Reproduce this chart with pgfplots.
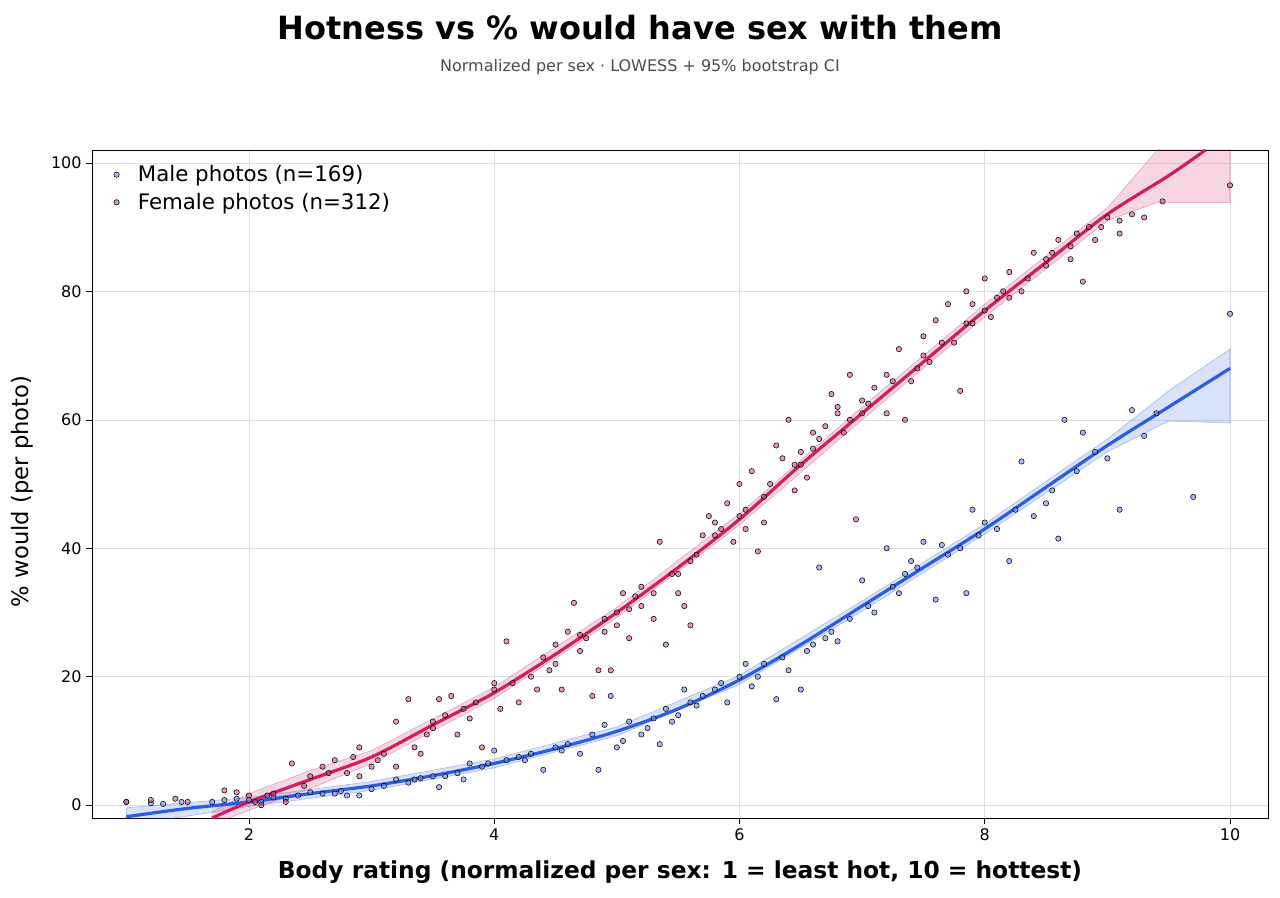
\documentclass[border=0pt]{standalone}
\usepackage{fontspec}
\setmainfont{DejaVu Sans}
\usepackage{pgfplots}
\pgfplotsset{compat=1.18}
\definecolor{mpt}{HTML}{6D8FF0}
\definecolor{mln}{HTML}{2B5CE6}
\definecolor{fpt}{HTML}{D0457A}
\definecolor{fln}{HTML}{D01E5E}
\begin{document}
\begin{tikzpicture}
\useasboundingbox (-69pt,-59.25pt) rectangle (891pt,613.5pt);
\begin{axis}[
 scale only axis, width=882pt, height=501pt,
 xmin=0.72, xmax=10.31, ymin=-2, ymax=102,
 xtick={2,4,6,8,10}, ytick={0,20,40,60,80,100},
 xtick pos=left, ytick pos=left,
 tick align=outside, tick style={black, thin},
 grid=major, grid style={gray!25, thin},
 ticklabel style={font=\fontsize{12}{14}\selectfont},
 /pgf/number format/assume math mode=true,
 legend style={draw=none, fill=none, at={(0.015,0.985)}, anchor=north west, font=\fontsize{16}{19}\selectfont, row sep=3pt, nodes={inner xsep=14pt}},
 legend cell align=left,
]
\addplot[only marks, mark=*, mark size=2pt, mark options={draw=none, fill=mpt, fill opacity=0.6}] coordinates {
(1.0,0.5)(1.2,0.3)(1.3,0.2)(1.45,0.5)(1.7,0.5)(1.8,0.8)(1.9,1)(2.0,0.8)(2.1,0.5)(2.2,1.2)(2.3,1)(2.4,1.5)(2.5,2)(2.6,1.8)(2.7,1.8)(2.8,1.5)(2.9,1.5)(3.0,2.5)(3.1,3)(3.2,4)(3.3,3.5)(3.4,4.2)(3.5,4.5)(3.55,2.8)(3.6,4.5)(3.7,5)(3.75,4)(3.8,6.5)(3.9,6)(4.0,8.5)(4.1,7)(4.2,7.5)(4.3,8)(4.4,5.5)(4.5,9)(4.6,9.5)(4.7,8)(4.8,11)(4.85,5.5)(4.9,12.5)(4.95,17)(5.0,9)(5.05,10)(5.1,13)(5.2,11)(5.3,13.5)(5.35,9.5)(5.4,15)(5.5,14)(5.55,18)(5.6,16)(5.7,17)(5.8,18)(5.9,16)(6.0,20)(6.05,22)(6.1,18.5)(6.2,22)(6.3,16.5)(6.4,21)(6.5,18)(6.6,25)(6.65,37)(6.7,26)(6.8,25.5)(6.9,29)(7.0,35)(7.1,30)(7.2,40)(7.3,33)(7.35,36)(7.4,38)(7.5,41)(7.6,32)(7.7,39)(7.8,40)(7.85,33)(7.9,46)(8.0,44)(8.1,43)(8.2,38)(8.3,53.5)(8.4,45)(8.5,47)(8.6,41.5)(8.65,60)(8.8,58)(8.9,55)(9.0,54)(9.1,46)(9.2,61.5)(9.3,57.5)(9.4,61)(9.7,48)(10.0,76.5)
(5.25,12)(5.45,13)(5.65,15.5)(5.85,19)(6.15,20)(6.35,23)(6.55,24)(6.75,27)(7.05,31)(7.25,34)(7.45,37)(7.65,40.5)(7.95,42)(8.25,46)(8.55,49)(8.75,52)(4.55,8.5)(4.25,7)(3.95,6.5)(3.35,4)(2.75,2.2)(2.15,1.5)
};
\addlegendentry{Male photos (n=169)}
\addplot[only marks, mark=*, mark size=2pt, mark options={draw=none, fill=fpt, fill opacity=0.55}] coordinates {
(1.0,0.5)(1.2,0.8)(1.4,1)(1.5,0.5)(1.8,2.3)(1.9,2)(2.0,1.5)(2.05,0.5)(2.1,0)(2.2,1.8)(2.3,0.5)(2.35,6.5)(2.5,4.5)(2.6,6)(2.7,7)(2.8,5)(2.85,7.5)(2.9,9)(2.9,4.5)(3.0,6)(3.1,8)(3.2,6)(3.2,13)(3.3,16.5)(3.35,9)(3.4,8)(3.5,12)(3.55,16.5)(3.6,14)(3.65,17)(3.7,11)(3.75,15)(3.8,13.5)(3.9,9)(4.0,19)(4.05,15)(4.1,25.5)(4.2,16)(4.3,20)(4.35,18)(4.4,23)(4.5,22)(4.55,18)(4.6,27)(4.65,31.5)(4.7,24)(4.75,26)(4.8,17)(4.85,21)(4.9,29)(4.95,21)(5.0,28)(5.05,33)(5.1,26)(5.15,32.5)(5.2,34)(5.3,29)(5.35,41)(5.4,25)(5.45,36)(5.5,33)(5.55,31)(5.6,28)(5.65,39)(5.7,42)(5.75,45)(5.8,44)(5.9,47)(5.95,41)(6.0,50)(6.05,43)(6.1,52)(6.15,39.5)(6.2,48)(6.3,56)(6.35,54)(6.4,60)(6.45,49)(6.5,55)(6.55,51)(6.6,58)(6.7,59)(6.75,64)(6.8,61)(6.85,58)(6.9,67)(6.95,44.5)(7.0,63)(7.1,65)(7.2,61)(7.3,71)(7.35,60)(7.4,66)(7.5,73)(7.55,69)(7.6,75.5)(7.7,78)(7.75,72)(7.8,64.5)(7.85,80)(7.9,75)(8.0,82)(8.05,76)(8.1,79)(8.2,83)(8.3,80)(8.4,86)(8.5,85)(8.6,88)(8.7,87)(8.8,81.5)(8.85,90)(8.9,88)(9.0,91.5)(9.1,89)(9.2,92)(9.3,91.5)(9.45,94)(10.0,96.5)
(5.0,30)(5.2,31)(5.5,36)(6.0,45)(6.5,53)(7.0,61)(7.5,70)(8.0,77)(8.5,84)(6.2,44)(5.8,42)(4.5,25)(4.0,18)(3.5,13)(7.2,67)(6.6,55.5)(6.8,62)(7.9,78)(8.2,79)(8.7,85)(9.1,91)
(2.45,3)(2.65,5)(3.05,7)(3.45,11)(3.85,16)(4.15,19)(4.45,21)(4.7,26.5)(4.9,27)(5.1,30.5)(5.3,33)(5.6,38)(5.85,43)(6.05,46)(6.25,50)(6.45,53)(6.65,57)(6.9,60)(7.05,62.5)(7.25,66)(7.45,68)(7.65,72)(7.85,75)(8.15,80)(8.35,82)(8.55,86)(8.75,89)(8.95,90)
};
\addlegendentry{Female photos (n=312)}
\addplot[forget plot, fill=mln, fill opacity=0.18, draw=mln, draw opacity=0.4, thin] coordinates {
(1,-3.2)(2,-0.2)(3,2.3)(4,5.8)(5,10.8)(6,18.8)(7,30.2)(8,42.2)(9,55)(9.5,59.8)(10,59.5)
(10,71)(9.5,64.5)(9,57)(8,43.8)(7,31.8)(6,20.2)(5,12.2)(4,7.2)(3,3.7)(2,1.2)(1,-0.4)} -- cycle;
\addplot[forget plot, fill=fln, fill opacity=0.18, draw=fln, draw opacity=0.4, thin] coordinates {
(1.7,-3)(2,-0.8)(2.5,2.6)(3,6.5)(4,16.6)(5,29.2)(6,43.6)(7,60)(8,76)(9,91)(9.4,93.8)(10,93.8)
(10,104)(9.5,104)(9,93)(8,78)(7,62)(6,45.4)(5,30.8)(4,18.4)(3,8.5)(2.5,5.4)(2,1.8)(1.7,-1)} -- cycle;
\addplot[forget plot, mln, line width=2.4pt, smooth] coordinates {
(1,-1.8)(1.5,-0.5)(2,0.5)(2.5,1.8)(3,3)(3.5,4.6)(4,6.5)(4.5,8.8)(5,11.5)(5.5,15)(6,19.5)(6.5,25)(7,31)(7.5,37)(8,43)(8.5,49.5)(9,56)(9.5,62)(10,68)};
\addplot[forget plot, fln, line width=2.4pt, smooth] coordinates {
(1.7,-2)(2,0.5)(2.5,4)(3,7.5)(3.5,12.5)(4,17.5)(4.5,23.5)(5,30)(5.5,37)(6,44.5)(6.5,53)(7,61)(7.5,69)(8,77)(8.5,84.5)(9,92)(9.5,98)(9.8,102)};
\end{axis}
\node[font=\bfseries\fontsize{24}{28}\selectfont] at (411pt,592.5pt) {Hotness vs \% would have sex with them};
\node[font=\fontsize{12}{14}\selectfont, text=black!70] at (411pt,563pt) {Normalized per sex · LOWESS + 95\% bootstrap CI};
\node[font=\bfseries\fontsize{17.5}{20}\selectfont] at (441pt,-40.5pt) {Body rating (normalized per sex: 1 = least hot, 10 = hottest)};
\node[font=\fontsize{17}{20}\selectfont, rotate=90] at (-52.5pt,245pt) {\% would (per photo)};
\end{tikzpicture}
\end{document}
